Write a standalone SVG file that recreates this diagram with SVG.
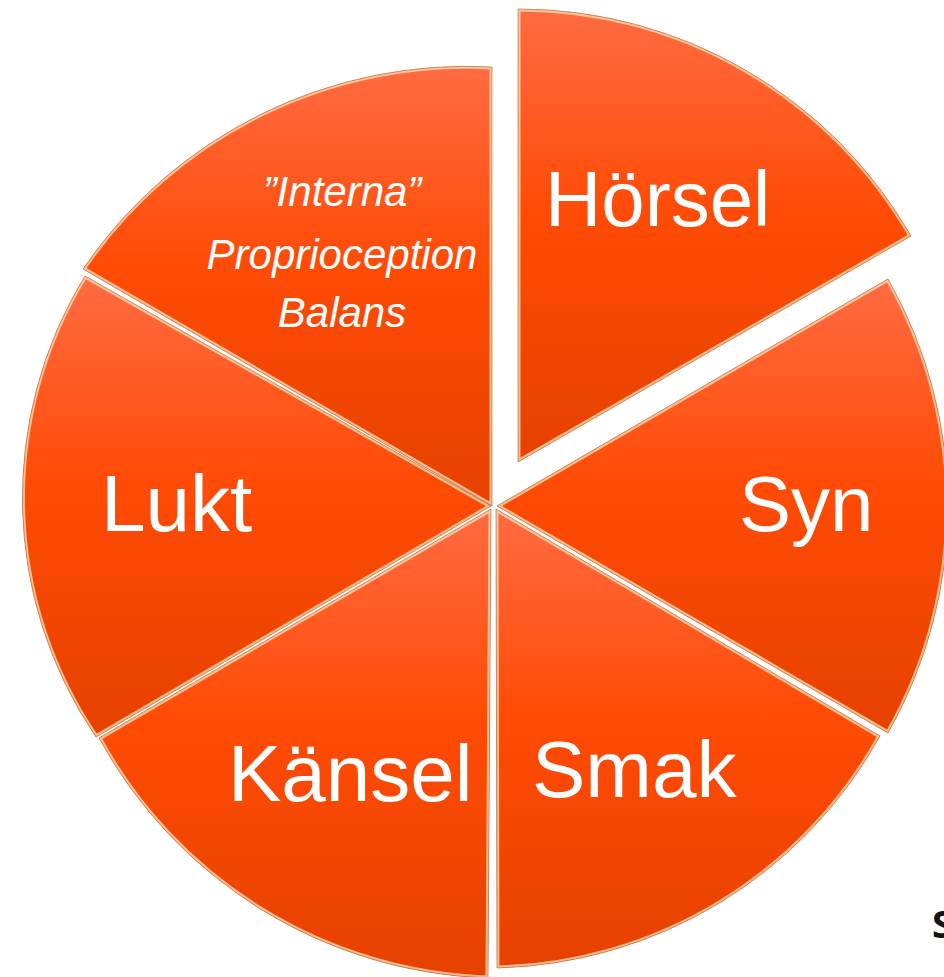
<svg xmlns="http://www.w3.org/2000/svg" xmlns:xlink="http://www.w3.org/1999/xlink" width="944" height="977" viewBox="0 0 944 977">
  <style>
    .lbl { font-family: "Liberation Sans", Arial, sans-serif; fill: #FFFFFF; }
    .big { font-size: 80px; }
    .ital { font-size: 42px; font-style: italic; }
    .fill { fill: url(#orange); }
    .bevel { fill: none; stroke: #FFE6B5; stroke-width: 5; opacity: 0.75; }
    .edge { fill: none; stroke: #B0603F; stroke-width: 0.8; opacity: 0.8; }
    .note { font-family: "Open Sans", "Liberation Sans", sans-serif; font-weight: bold; font-size: 38px; fill: #141414; }
  </style>
  <defs>
    <linearGradient id="orange" x1="0" y1="0" x2="0" y2="1">
      <stop offset="0" stop-color="#FF6B42"/>
      <stop offset="0.45" stop-color="#FF4B06"/>
      <stop offset="1" stop-color="#E64100"/>
    </linearGradient>
    <path id="p-interna" d="M492,506 L83,269 A464,464 0 0 1 492,67 Z"/>
    <path id="p-horsel" d="M518,462 L518,9 A453,453 0 0 1 911,236 Z"/>
    <path id="p-syn" d="M497,506 L888,279 A460,460 0 0 1 888,733 Z"/>
    <path id="p-smak" d="M496,509 L880,736 A450,450 0 0 1 497,968 Z"/>
    <path id="p-kansel" d="M491,509 L488,978 A460,460 0 0 1 99,738 Z"/>
    <path id="p-lukt" d="M491,506 L96,737 A425,425 0 0 1 85,276 Z"/>
    <clipPath id="c-interna"><use xlink:href="#p-interna"/></clipPath>
    <clipPath id="c-horsel"><use xlink:href="#p-horsel"/></clipPath>
    <clipPath id="c-syn"><use xlink:href="#p-syn"/></clipPath>
    <clipPath id="c-smak"><use xlink:href="#p-smak"/></clipPath>
    <clipPath id="c-kansel"><use xlink:href="#p-kansel"/></clipPath>
    <clipPath id="c-lukt"><use xlink:href="#p-lukt"/></clipPath>
  </defs>
  <rect width="944" height="977" fill="#FFFFFF"/>

  <g id="slice-interna">
    <use xlink:href="#p-interna" class="fill"/>
    <use xlink:href="#p-interna" class="bevel" clip-path="url(#c-interna)"/>
    <use xlink:href="#p-interna" class="edge"/>
    <text class="lbl ital" x="342" y="206" text-anchor="middle">”Interna”</text>
    <text class="lbl ital" x="342" y="269" text-anchor="middle">Proprioception</text>
    <text class="lbl ital" x="342" y="327" text-anchor="middle">Balans</text>
  </g>

  <g id="slice-horsel">
    <use xlink:href="#p-horsel" class="fill"/>
    <use xlink:href="#p-horsel" class="bevel" clip-path="url(#c-horsel)"/>
    <use xlink:href="#p-horsel" class="edge"/>
    <text class="lbl big" x="545" y="226" style="font-size:78px">Hörsel</text>
  </g>

  <g id="slice-syn">
    <use xlink:href="#p-syn" class="fill"/>
    <use xlink:href="#p-syn" class="bevel" clip-path="url(#c-syn)"/>
    <use xlink:href="#p-syn" class="edge"/>
    <text class="lbl big" x="739" y="531" style="font-size:78px">Syn</text>
  </g>

  <g id="slice-smak">
    <use xlink:href="#p-smak" class="fill"/>
    <use xlink:href="#p-smak" class="bevel" clip-path="url(#c-smak)"/>
    <use xlink:href="#p-smak" class="edge"/>
    <text class="lbl big" x="532" y="797">Smak</text>
  </g>

  <g id="slice-kansel">
    <use xlink:href="#p-kansel" class="fill"/>
    <use xlink:href="#p-kansel" class="bevel" clip-path="url(#c-kansel)"/>
    <use xlink:href="#p-kansel" class="edge"/>
    <text class="lbl big" x="228" y="801">Känsel</text>
  </g>

  <g id="slice-lukt">
    <use xlink:href="#p-lukt" class="fill"/>
    <use xlink:href="#p-lukt" class="bevel" clip-path="url(#c-lukt)"/>
    <use xlink:href="#p-lukt" class="edge"/>
    <text class="lbl big" x="101" y="531">Lukt</text>
  </g>

  <g id="connectors"/>

  <text class="note" x="932" y="938">S</text>
</svg>
